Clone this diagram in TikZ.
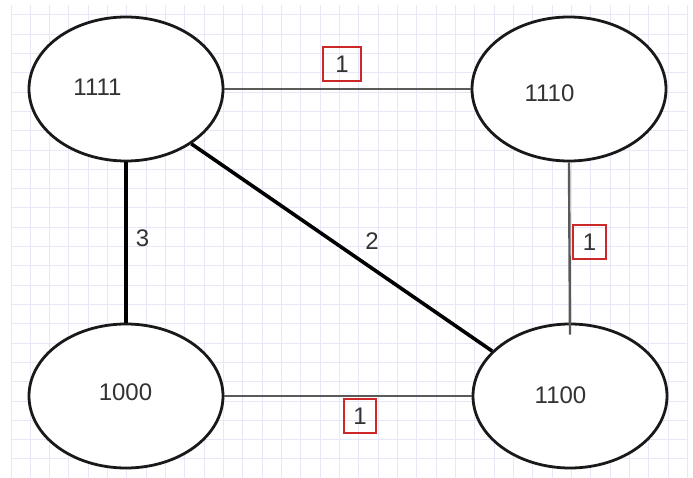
\documentclass[tikz,border=0pt]{standalone}
\usepackage{fontspec}
\setmainfont{Liberation Sans}
\usetikzlibrary{shapes.geometric}
\definecolor{gridc}{RGB}{231,231,248}
\definecolor{txt}{RGB}{51,51,51}
\definecolor{boxred}{RGB}{204,40,40}
\definecolor{thinedge}{RGB}{90,90,90}
\definecolor{ring}{RGB}{25,25,25}
\begin{document}
\begin{tikzpicture}[x=1pt,y=-1pt,
  state/.style={ellipse,draw=ring,line width=2.8pt,fill=white,minimum width=194pt,minimum height=144pt,inner sep=0pt},
  lbl/.style={text=txt,font=\fontsize{24}{26}\selectfont,inner sep=0pt},
  wbox/.style={draw=boxred,line width=1.2pt,text=txt,font=\fontsize{24}{26}\selectfont,inner sep=0pt,minimum height=34pt},
  heavy/.style={line width=3.6pt,black},
  light/.style={line width=2.4pt,thinedge}]
\fill[white] (0,0) rectangle (693,478);
\useasboundingbox (0,0) rectangle (693,478);
\foreach \k in {0,...,35} { \draw[gridc,line width=1pt] ({11+19.33*\k},5) -- ({11+19.33*\k},478); }
\foreach \k in {0,...,23} { \draw[gridc,line width=1pt] (11,{15+19.3*\k}) -- (688,{15+19.3*\k}); }
\node[state] (A) at (126,89) {};
\node[state] (B) at (569,89) {};
\node[state] (C) at (126,396) {};
\node[state] (D) at (570,396) {};
\draw[light] (A.east) -- (B.west);
\draw[light] (B.south) -- ([yshift=-12pt]D.north);
\draw[light] (C.east) -- (D.west);
\draw[heavy] (A.south) -- (C.north);
\draw[heavy] (A.-40) -- (D.150);
\node[lbl] (tA) at (97.5,87) {1111};
\node[lbl] (tB) at (549.5,93) {1110};
\node[lbl] (tC) at (125.5,392) {1000};
\node[lbl] (tD) at (560.5,395) {1100};
\node[wbox,minimum width=38pt] (w1) at (342,64) {1};
\node[wbox,minimum width=33pt] (w2) at (589.5,242) {1};
\node[wbox,minimum width=32pt] (w3) at (360,416) {1};
\node[lbl] (w4) at (142.5,238) {3};
\node[lbl] (w5) at (372,241) {2};
\end{tikzpicture}
\end{document}
